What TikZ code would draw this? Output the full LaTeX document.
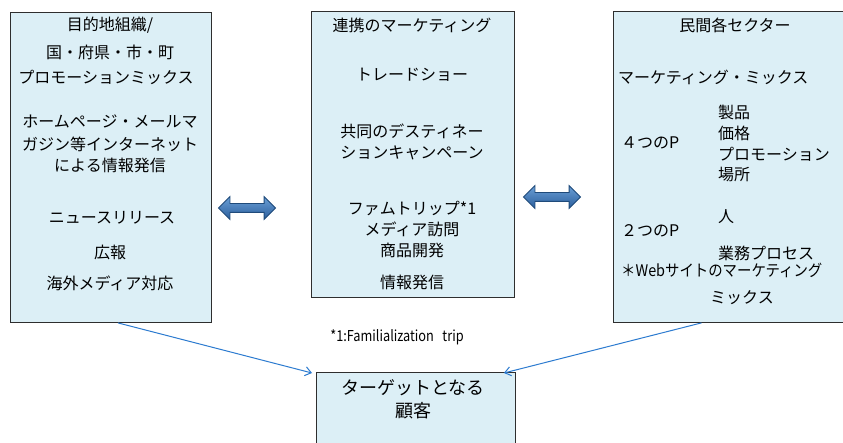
\documentclass[tikz,border=0pt]{standalone}
\usepackage{fontspec}
\setmainfont{Noto Sans CJK JP}
\usetikzlibrary{shapes.arrows,arrows.meta}
\definecolor{boxfill}{HTML}{DCEFF6}
\definecolor{boxline}{HTML}{2E2E2E}
\definecolor{connblue}{HTML}{2C7BD0}
\definecolor{arrtop}{HTML}{6A9FD6}
\definecolor{arrbot}{HTML}{2B5E9C}
\definecolor{arrline}{HTML}{1F4A7A}
\begin{document}
\begin{tikzpicture}[x=1pt,y=-1pt,
  box/.style={draw=boxline, line width=0.9pt, fill=boxfill, rectangle, anchor=north west, inner sep=0pt},
  txt/.style={inner sep=0pt, font=\fontsize{16}{18}\selectfont, text=black},
  ltxt/.style={txt, anchor=west},
  big/.style={inner sep=0pt, font=\fontsize{18}{22}\selectfont, text=black},
  note/.style={inner sep=0pt, font=\fontsize{15}{17}\selectfont, text=black},
  dbl/.style={double arrow, draw=arrline, line width=0.8pt, top color=arrtop, bottom color=arrbot,
    minimum height=57pt, double arrow head extend=7pt, inner sep=4pt},
  conn/.style={draw=connblue, line width=1pt, -{Straight Barb[length=6pt,width=9pt]}}
]
\useasboundingbox (0,0) rectangle (843,443);
\clip (0,0) rectangle (843,443);
\fill[white] (0,0) rectangle (843,443);

% boxes
\node[box, minimum width=201pt, minimum height=310pt] (L) at (10,12) {};
\node[box, minimum width=203pt, minimum height=286pt] (M) at (311,11) {};
\node[box, minimum width=262pt, minimum height=311pt] (R) at (613,11) {};
\node[box, minimum width=199pt, minimum height=90pt] (T) at (316,372) {};

% left box text
\node[txt] (l1) at (110,25) {目的地組織/};
\node[txt] (l2) at (110,52) {国・府県・市・町};
\node[txt] (l3) at (106,77) {プロモーションミックス};
\node[txt] (l4) at (110,122) {ホームページ・メールマ};
\node[txt] (l5) at (110,144) {ガジン等インターネット};
\node[txt] (l6) at (110,165) {による情報発信};
\node[txt] (l7) at (112,218) {ニュースリリース};
\node[txt] (l8) at (110,252) {広報};
\node[txt] (l9) at (110,283) {海外メディア対応};

% middle box text
\node[txt] (m1) at (412,25) {連携のマーケティング};
\node[txt] (m2) at (412,75) {トレードショー};
\node[txt] (m3) at (412,131) {共同のデスティネー};
\node[txt] (m4) at (412,153) {ションキャンペーン};
\node[txt] (m5) at (412,208) {ファムトリップ*1};
\node[txt] (m6) at (412,229) {メディア訪問};
\node[txt] (m7) at (412,250) {商品開発};
\node[txt] (m8) at (412,282) {情報発信};

% right box text
\node[txt] (r1) at (735,25) {民間各セクター};
\node[ltxt] (r2) at (618,77) {マーケティング・ミックス};
\node[ltxt] (r3) at (718,112) {製品};
\node[ltxt] (r4) at (718,133) {価格};
\node[ltxt] (r5) at (718,154) {プロモーション};
\node[ltxt] (r6) at (718,175) {場所};
\node[ltxt] (r7) at (621,143) {４つのP};
\node[ltxt] (r8) at (718,217) {人};
\node[ltxt] (r9) at (621,231) {２つのP};
\node[ltxt] (r10) at (718,253) {業務プロセス};
\node[ltxt] (r11) at (621,270) {\scalebox{0.9}[1]{＊Webサイトのマーケティング}};
\node[txt] (r12) at (742,298) {ミックス};

% bottom box text
\node[big] (t1) at (413,388) {ターゲットとなる};
\node[big] (t2) at (413,411) {顧客};

% footnote
\node[note] (fn) at (397,337) {\scalebox{0.85}[1]{*1:Familialization\ \ \ trip}};

% double arrows
\node[dbl] (a1) at (247,208) {};
\node[dbl] (a2) at (552,197) {};

% connectors
\draw[conn] ([xshift=7pt]L.south) -- ([xshift=-4pt,yshift=-1pt]T.north west);
\draw[conn] ([xshift=-43pt]R.south) -- ([xshift=-12pt,yshift=-1pt]T.north east);
\end{tikzpicture}
\end{document}
